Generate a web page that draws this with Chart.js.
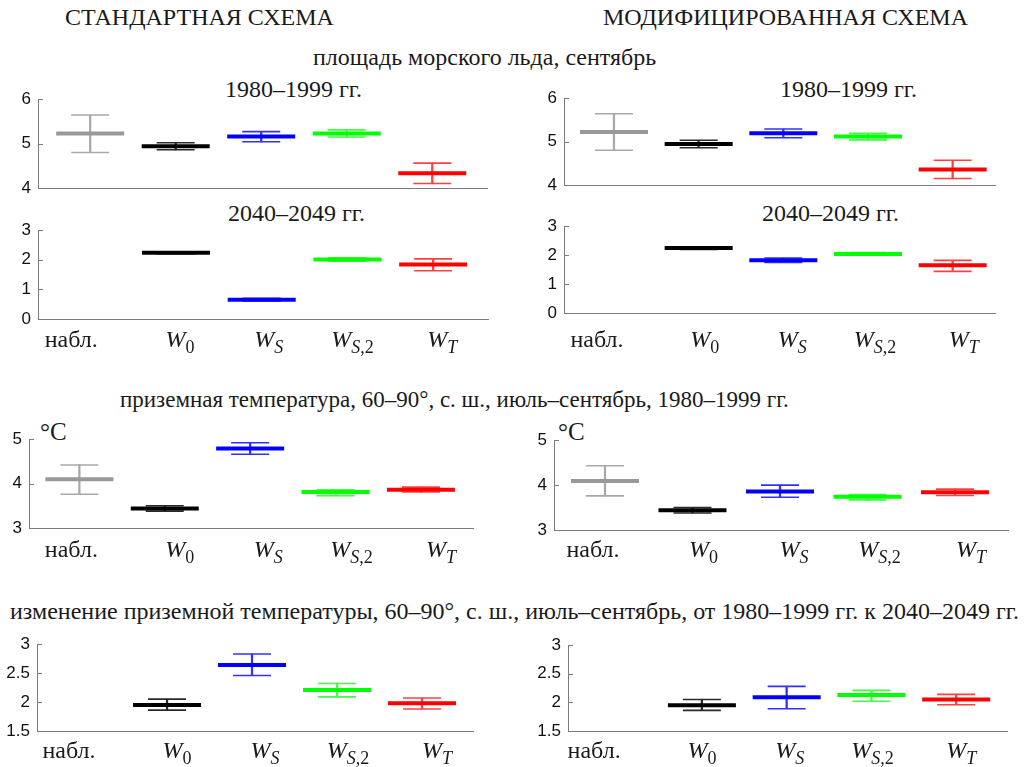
<!DOCTYPE html>
<html>
<head>
<meta charset="utf-8">
<script src="https://cdn.jsdelivr.net/npm/chart.js@4.4.0/dist/chart.umd.min.js"></script>
<style>
  body { margin: 0; background: #fff; }
  #fig { position: relative; width: 1030px; height: 767px; overflow: hidden;
         font-family: "Liberation Serif", "Times New Roman", serif; color: #1a1a1a; }
  .t { position: absolute; white-space: nowrap; font-size: 24px; line-height: 24px; }
  .t.small { font-size: 23px; line-height: 23px; }
  .deg { font-size: 25px; line-height: 25px; }
  canvas { position: absolute; }
</style>
</head>
<body>
<div id="fig">
  <div class="t" style="left:65px; top:5px">СТАНДАРТНАЯ СХЕМА</div>
  <div class="t" style="left:603px; top:5px">МОДИФИЦИРОВАННАЯ СХЕМА</div>
  <div class="t" style="left:313px; top:45px">площадь морского льда, сентябрь</div>
  <div class="t" style="left:225px; top:77px">1980–1999 гг.</div>
  <div class="t" style="left:780px; top:77px">1980–1999 гг.</div>
  <div class="t" style="left:228px; top:201px">2040–2049 гг.</div>
  <div class="t" style="left:762px; top:201px">2040–2049 гг.</div>
  <div class="t small" style="left:120px; top:388px">приземная температура, 60–90°, с. ш., июль–сентябрь, 1980–1999 гг.</div>
  <div class="t" style="left:10px; top:599px">изменение приземной температуры, 60–90°, с. ш., июль–сентябрь, от 1980–1999 гг. к 2040–2049 гг.</div>
  <div class="t deg" style="left:40px; top:419px">°C</div>
  <div class="t deg" style="left:558px; top:419px">°C</div>
</div>
<script>
// categories: observations + four model versions
const catNames = ['набл.', 'W', 'W', 'W', 'W'];
const catSubs = ['', '0', 'S', 'S,2', 'T'];
const meanColors = ['#999999', '#000000', '#0000ff', '#00ff00', '#ff0000'];
const capColors = ['#a9a9a9', '#2a2a2a', '#3030ff', '#40ff40', '#ff4040'];

// sea ice area, september, 1980-1999
const iceStd8099Mean = [5.23, 4.94, 5.16, 5.23, 4.33];
const iceStd8099Low  = [4.80, 4.86, 5.04, 5.15, 4.10];
const iceStd8099High = [5.645, 5.02, 5.27, 5.31, 4.56];
const iceMod8099Mean = [5.22, 4.945, 5.19, 5.12, 4.36];
const iceMod8099Low  = [4.80, 4.86, 5.09, 5.04, 4.15];
const iceMod8099High = [5.64, 5.03, 5.29, 5.19, 4.57];

// sea ice area, september, 2040-2049
const iceStd4049Mean = [null, 2.24, 0.65, 2.01, 1.84];
const iceStd4049Low  = [null, 2.21, 0.61, 1.95, 1.63];
const iceStd4049High = [null, 2.27, 0.70, 2.07, 2.03];
const iceMod4049Mean = [null, 2.25, 1.82, 2.04, 1.65];
const iceMod4049Low  = [null, 2.20, 1.75, 2.00, 1.44];
const iceMod4049High = [null, 2.29, 1.90, 2.09, 1.82];

// surface temperature 60-90N, jul-sep, 1980-1999
const tempStdMean = [4.10, 3.44, 4.79, 3.81, 3.86];
const tempStdLow  = [3.76, 3.38, 4.66, 3.73, 3.81];
const tempStdHigh = [4.42, 3.50, 4.92, 3.86, 3.92];
const tempModMean = [4.09, 3.44, 3.86, 3.74, 3.84];
const tempModLow  = [3.76, 3.38, 3.73, 3.67, 3.77];
const tempModHigh = [4.43, 3.50, 4.00, 3.79, 3.91];

// change of surface temperature, 1980-1999 -> 2040-2049
const dTempStdMean = [null, 1.95, 2.64, 2.21, 1.98];
const dTempStdLow  = [null, 1.86, 2.46, 2.09, 1.88];
const dTempStdHigh = [null, 2.05, 2.83, 2.32, 2.07];
const dTempModMean = [null, 1.95, 2.09, 2.13, 2.05];
const dTempModLow  = [null, 1.86, 1.89, 2.02, 1.96];
const dTempModHigh = [null, 2.05, 2.28, 2.21, 2.14];

const AXIS = '#7a7a7a';
const TXT = '#1a1a1a';
const SERIF = '"Liberation Serif", "Times New Roman", serif';
const SANS = '"Liberation Sans", Arial, sans-serif';
const PAD_L = 45, PAD_T = 12, PAD_R = 6, PAD_B = 44;
const CAT_SIZE = 24, SUB_SIZE = 18, SUB_DY = 6;
const labelShift = [-19, 4, 7, 5, 9];

// box = [axis left, axis top, axis right, axis bottom] in page pixels
const panels = [
  {mean: iceStd8099Mean, lo: iceStd8099Low, hi: iceStd8099High, yMin: 4, yMax: 6, step: 1,
   box: [38, 94, 487, 188], xMin: -0.61, xMax: 4.64, labels: false},
  {mean: iceMod8099Mean, lo: iceMod8099Low, hi: iceMod8099High, yMin: 4, yMax: 6, step: 1,
   box: [564, 92.7, 995, 184.3], xMin: -0.59, xMax: 4.5, labels: false},
  {mean: iceStd4049Mean, lo: iceStd4049Low, hi: iceStd4049High, yMin: 0, yMax: 3, step: 1,
   box: [38, 225, 488, 319], xMin: -0.61, xMax: 4.64, labels: true, labelDx: 0, labelDy: 28},
  {mean: iceMod4049Mean, lo: iceMod4049Low, hi: iceMod4049High, yMin: 0, yMax: 3, step: 1,
   box: [564, 220.7, 995, 312.3], xMin: -0.59, xMax: 4.5, labels: true, labelDx: 2, labelDy: 34},
  {mean: tempStdMean, lo: tempStdLow, hi: tempStdHigh, yMin: 3, yMax: 5, step: 1,
   box: [29, 434, 473, 528.3], xMin: -0.59, xMax: 4.61, labels: true, labelDx: 11, labelDy: 29},
  {mean: tempModMean, lo: tempModLow, hi: tempModHigh, yMin: 3, yMax: 5, step: 1,
   box: [554, 435, 1008, 530], xMin: -0.583, xMax: 4.606, labels: true, labelDx: 7, labelDy: 27},
  {mean: dTempStdMean, lo: dTempStdLow, hi: dTempStdHigh, yMin: 1.5, yMax: 3, step: 0.5,
   box: [37, 639, 473, 731], xMin: -0.53, xMax: 4.6, labels: true, labelDx: 6, labelDy: 27},
  {mean: dTempModMean, lo: dTempModLow, hi: dTempModHigh, yMin: 1.5, yMax: 3, step: 0.5,
   box: [568, 640, 1007, 731], xMin: -0.58, xMax: 4.6, labels: true, labelDx: -4, labelDy: 27}
];

function drawCatLabel(ctx, name, sub, cx, baseY) {
  ctx.fillStyle = TXT;
  ctx.textBaseline = 'alphabetic';
  if (!sub) {
    ctx.font = CAT_SIZE + 'px ' + SERIF;
    ctx.textAlign = 'center';
    ctx.fillText(name, cx, baseY);
    return;
  }
  ctx.textAlign = 'left';
  const mainFont = 'italic ' + CAT_SIZE + 'px ' + SERIF;
  ctx.font = mainFont;
  const wMain = ctx.measureText(name).width;
  const chars = sub.split('').map(ch => ({
    ch: ch,
    font: (/[A-Za-z]/.test(ch) ? 'italic ' : '') + SUB_SIZE + 'px ' + SERIF
  }));
  let wSub = 0;
  chars.forEach(c => { ctx.font = c.font; c.w = ctx.measureText(c.ch).width; wSub += c.w; });
  let x = cx - (wMain + wSub) / 2;
  ctx.font = mainFont;
  ctx.fillText(name, x, baseY);
  x += wMain;
  chars.forEach(c => { ctx.font = c.font; ctx.fillText(c.ch, x, baseY + SUB_DY); x += c.w; });
}

const fig = document.getElementById('fig');

panels.forEach(p => {
  const c = document.createElement('canvas');
  c.width = Math.round(p.box[2] - p.box[0] + PAD_L + PAD_R);
  c.height = Math.round(p.box[3] - p.box[1] + PAD_T + PAD_B);
  c.style.left = Math.round(p.box[0] - PAD_L) + 'px';
  c.style.top = Math.round(p.box[1] - PAD_T) + 'px';
  fig.appendChild(c);

  const idx = p.mean.map((v, i) => i).filter(i => p.mean[i] != null);

  const deco = {
    id: 'deco',
    afterDraw(chart) {
      const ctx = chart.ctx;
      const area = chart.chartArea;
      const ys = chart.scales.y, xs = chart.scales.x;
      ctx.save();
      // inward ticks
      ctx.strokeStyle = AXIS;
      ctx.lineWidth = 1;
      ys.ticks.forEach(t => {
        const y = Math.round(ys.getPixelForValue(t.value)) + 0.5;
        ctx.beginPath();
        ctx.moveTo(area.left, y);
        ctx.lineTo(area.left + 5, y);
        ctx.stroke();
      });
      if (p.labels) {
        catNames.forEach((name, i) => {
          const cx = xs.getPixelForValue(i) + labelShift[i] + p.labelDx;
          drawCatLabel(ctx, name, catSubs[i], cx, area.bottom + p.labelDy);
        });
      }
      ctx.restore();
    }
  };

  new Chart(c, {
    type: 'scatter',
    data: {
      datasets: [
        {
          data: idx.map(i => ({x: i, y: p.mean[i]})),
          pointStyle: 'line',
          pointRadius: 34,
          pointBorderWidth: 4,
          pointBorderColor: idx.map(i => meanColors[i])
        },
        {
          data: idx.flatMap(i => [{x: i, y: p.lo[i]}, {x: i, y: p.hi[i]}]),
          pointStyle: 'line',
          pointRadius: 19,
          pointBorderWidth: 1.6,
          pointBorderColor: idx.flatMap(i => [capColors[i], capColors[i]])
        },
        {
          type: 'bar',
          data: idx.map(i => ({x: i, y: [p.lo[i], p.hi[i]]})),
          backgroundColor: idx.map(i => capColors[i]),
          borderWidth: 0,
          barThickness: 1.6,
          grouped: false
        }
      ]
    },
    options: {
      responsive: false,
      animation: false,
      events: [],
      layout: {autoPadding: false, padding: {left: 0, top: PAD_T, right: PAD_R, bottom: 0}},
      plugins: {legend: {display: false}, tooltip: {enabled: false}},
      scales: {
        x: {
          type: 'linear',
          min: p.xMin,
          max: p.xMax,
          offset: false,
          ticks: {display: false},
          grid: {display: false, drawTicks: false, offset: false},
          border: {display: true, color: AXIS, width: 1},
          afterFit: s => { s.height = PAD_B; }
        },
        y: {
          type: 'linear',
          min: p.yMin,
          max: p.yMax,
          ticks: {
            stepSize: p.step,
            autoSkip: false,
            color: '#111',
            padding: 7,
            font: {family: SANS, size: 17},
            callback: v => String(v)
          },
          grid: {display: false, drawTicks: false},
          border: {display: true, color: AXIS, width: 1},
          afterFit: s => { s.width = PAD_L; }
        }
      }
    },
    plugins: [deco]
  });
});
</script>
</body>
</html>
